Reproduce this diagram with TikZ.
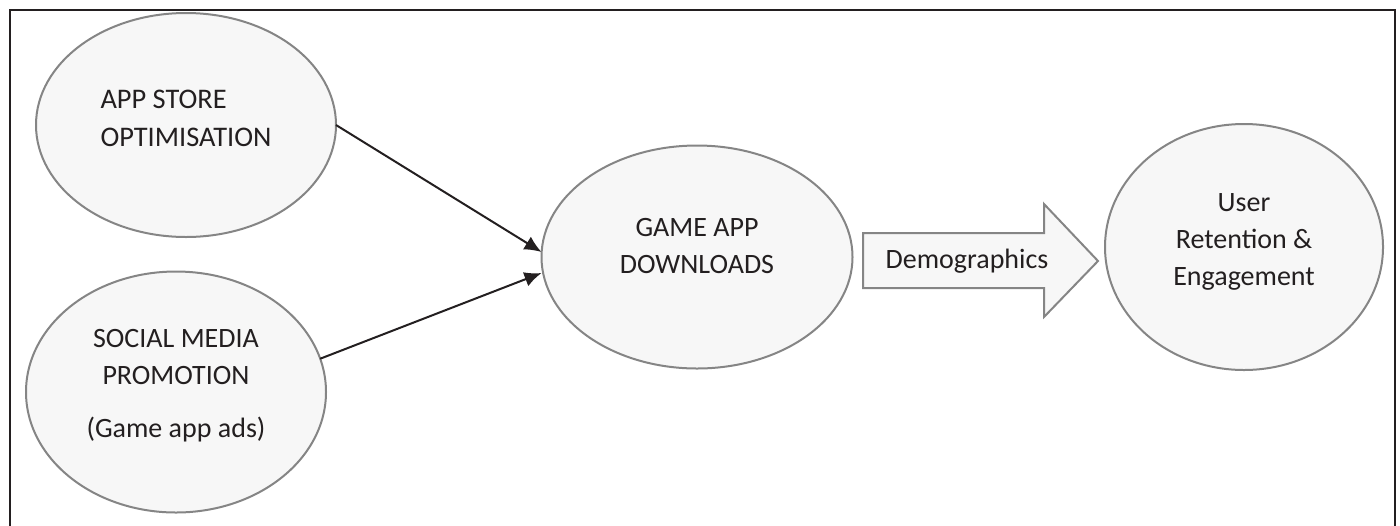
\documentclass[tikz,border=0pt]{standalone}
\usepackage{fontspec}
\setmainfont{Carlito}
\usetikzlibrary{shapes.geometric,arrows.meta}
\definecolor{bubblefill}{HTML}{F7F7F7}
\definecolor{bubbleline}{HTML}{858585}
\definecolor{inktext}{HTML}{231F20}
\begin{document}
\begin{tikzpicture}[x=0.5pt,y=-0.5pt,
    bubble/.style={ellipse, draw=bubbleline, fill=bubblefill, line width=1pt,
      inner sep=0pt, outer sep=0pt, align=center, text=inktext,
      font=\fontsize{14}{18.5}\selectfont},
    feed/.style={line width=1pt, draw=inktext, -{Latex[length=8.5pt,width=7.5pt]}}]
  \useasboundingbox (0,0) rectangle (1400,525);
  %outer frame, open at the bottom
  \draw[line width=0.6pt, draw=inktext] (10,535) -- (10,10) -- (1395,10) -- (1395,535);

  % the four bubbles
  \node[bubble, minimum width=150pt, minimum height=112pt, align=left, text depth=6.5pt,
    font=\fontsize{14.2}{19}\selectfont] (aso) at (186,125)
    {APP STORE\\OPTIMISATION};
  \node[bubble, minimum width=150pt, minimum height=120.5pt, text depth=8.5pt] (smp) at (176,392)
    {SOCIAL MEDIA\\PROMOTION\\[8pt](Game app ads)};
  \node[bubble, minimum width=155.5pt, minimum height=111.5pt, text depth=11pt] (gad) at (697,257)
    {GAME APP\\DOWNLOADS};
  \node[bubble, minimum width=139pt, minimum height=123pt, text depth=7pt] (ure) at (1244,247)
    {User\\Retention \&\\Engagement};

  % inputs to downloads
  \draw[feed] (aso.east) -- ([yshift=2.5pt]gad.west);
  \draw[feed] (smp.13) -- ([yshift=-8pt]gad.west);

  % block arrow
  \draw[draw=bubbleline, fill=bubblefill, line width=1pt]
    (863,233) -- (1044,233) -- (1044,204) -- (1098,261) -- (1044,317) -- (1044,288) -- (863,288) -- cycle;
  \node[text=inktext, font=\fontsize{14}{18.5}\selectfont] (demo) at (967,261) {Demographics};
\end{tikzpicture}
\end{document}
